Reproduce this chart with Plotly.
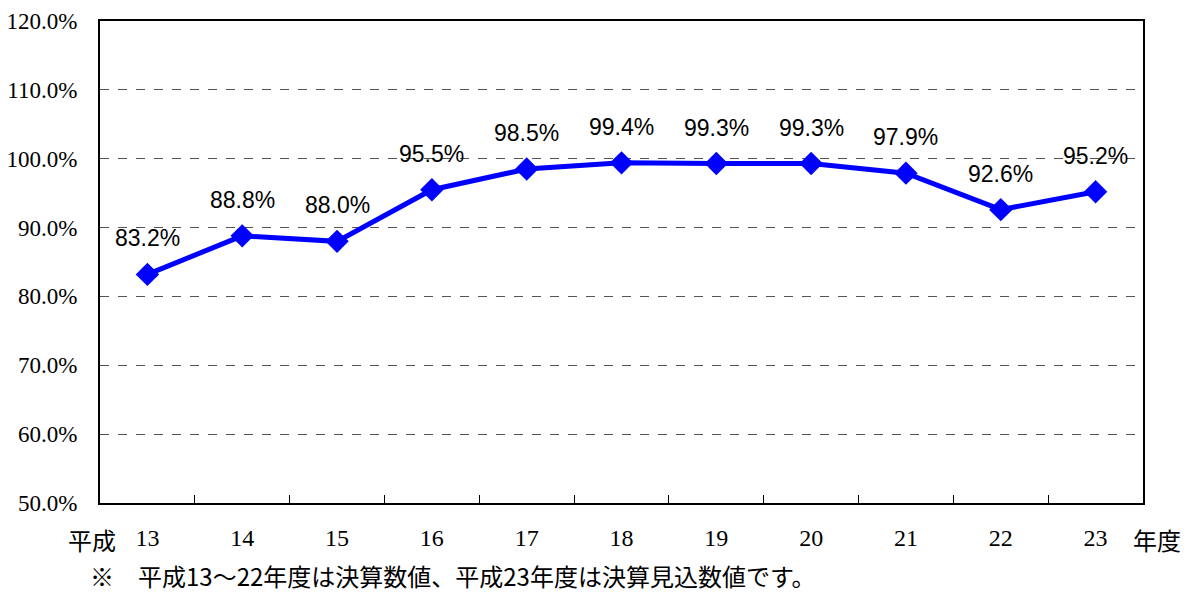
import plotly.graph_objects as go

years = ["13", "14", "15", "16", "17", "18", "19", "20", "21", "22", "23"]
rates = [83.2, 88.8, 88.0, 95.5, 98.5, 99.4, 99.3, 99.3, 97.9, 92.6, 95.2]
y_ticks = [50, 60, 70, 80, 90, 100, 110, 120]
note = "※　平成13～22年度は決算数値、平成23年度は決算見込数値です。"

serif = "Liberation Serif, DejaVu Serif, serif"
cjk = "Noto Sans CJK JP"

fig = go.Figure()
fig.add_trace(go.Scatter(
    x=years, y=rates, mode="lines+markers",
    line=dict(color="#0000FF", width=5),
    marker=dict(symbol="diamond", size=18, color="#0000FF"),
    showlegend=False, hoverinfo="skip",
))

for i, v in enumerate(rates):
    fig.add_annotation(
        x=i, y=v, text=f"{v:.1f}%", showarrow=False, yshift=36,
        xref="x", yref="y",
        font=dict(family="Liberation Sans, Arial, sans-serif", size=23, color="black"),
    )

fig.add_annotation(x=0, y=0, xref="paper", yref="paper", xanchor="right", yanchor="middle",
                   xshift=18, yshift=-36, text="平成", showarrow=False,
                   font=dict(family=cjk, size=24, color="black"))
fig.add_annotation(x=1, y=0, xref="paper", yref="paper", xanchor="left", yanchor="middle",
                   xshift=-12, yshift=-36, text="年度", showarrow=False,
                   font=dict(family=cjk, size=24, color="black"))
fig.add_annotation(x=0, y=0, xref="paper", yref="paper", xanchor="left", yanchor="middle",
                   xshift=-12, yshift=-72, text=note, showarrow=False,
                   font=dict(family=cjk, size=24, color="black"))

fig.update_layout(
    width=1190, height=594,
    margin=dict(l=100, r=47, t=21, b=91),
    paper_bgcolor="white", plot_bgcolor="white",
    xaxis=dict(
        type="category", range=[-0.5, len(years) - 0.5], automargin=False,
        showline=True, mirror=True, linecolor="black", linewidth=2,
        showgrid=False, tickson="boundaries", ticks="inside", ticklen=8,
        tickcolor="black", tickwidth=1, ticklabelstandoff=12,
        tickfont=dict(family=serif, size=24, color="black"),
    ),
    yaxis=dict(
        range=[50, 120], tickvals=y_ticks, automargin=False,
        ticktext=[f"{t:.1f}%" for t in y_ticks],
        showline=True, mirror=True, linecolor="black", linewidth=2,
        showgrid=True, gridcolor="#555555", gridwidth=1, griddash="dash",
        zeroline=False, ticks="", ticklabelstandoff=16,
        tickfont=dict(family=serif, size=23, color="black"),
    ),
)

fig.write_html("out.html")
